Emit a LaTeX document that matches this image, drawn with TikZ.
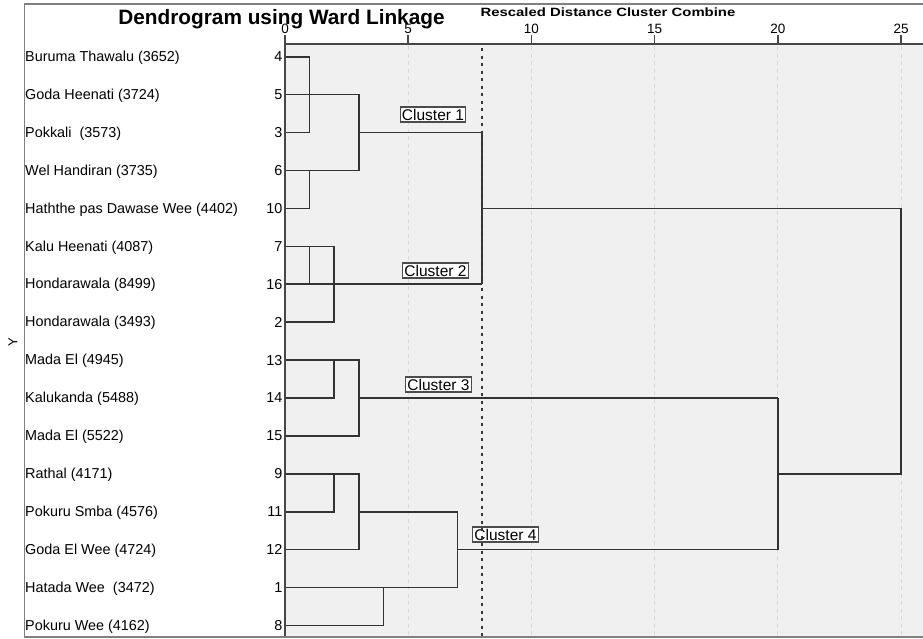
\documentclass[tikz,border=0pt]{standalone}
\usepackage{fontspec}
\setmainfont{Liberation Sans}
\usepackage{graphicx}
\begin{document}
\begin{tikzpicture}[x=1pt,y=-1pt,
  den/.style={line width=1.6pt, draw=black!80},
  gridln/.style={line width=1pt, draw=black!15, dash pattern=on 4pt off 3.5pt},
  cutln/.style={line width=2.2pt, draw=black!78, dash pattern=on 3pt off 4.5pt},
  axisln/.style={line width=1.6pt, draw=black!72},
  frameln/.style={line width=1.3pt, draw=black!50},
  leaf/.style={anchor=west, inner sep=0pt, font=\fontsize{14.4}{16}\selectfont},
  num/.style={anchor=east, inner sep=0pt, font=\fontsize{14.4}{16}\selectfont},
  tick/.style={anchor=base, inner sep=0pt, font=\fontsize{13.5}{15}\selectfont},
  clbox/.style={draw=black!70, fill=white, line width=1.1pt, inner sep=1.8pt, font=\fontsize{15.5}{17}\selectfont}
]
\useasboundingbox (0,0) rectangle (923,638);
% plot background
\fill[black!6] (285,44) rectangle (923,637);
% grid lines and ticks
\foreach \d in {5,10,15,20,25} {
  \draw[gridln] ({285+24.64*\d},46) -- ({285+24.64*\d},637);
}
\foreach \d in {0,5,10,15,20,25} {
  \draw[axisln] ({285+24.64*\d},35) -- ({285+24.64*\d},44);
  \node[tick] (tk\d) at ({285+24.64*\d},33) {\d};
}
% merge-distance coordinates
\foreach \d in {1,2,3,4,7,8,20,25} {
  \coordinate (d\d) at ({285+24.64*\d},44);
}
% leaves
\foreach \name/\num/\i in {
  {Buruma Thawalu (3652)}/4/0,
  {Goda Heenati (3724)}/5/1,
  {Pokkali\ \ (3573)}/3/2,
  {Wel Handiran (3735)}/6/3,
  {Haththe pas Dawase Wee (4402)}/10/4,
  {Kalu Heenati (4087)}/7/5,
  {Hondarawala (8499)}/16/6,
  {Hondarawala (3493)}/2/7,
  {Mada El (4945)}/13/8,
  {Kalukanda (5488)}/14/9,
  {Mada El (5522)}/15/10,
  {Rathal (4171)}/9/11,
  {Pokuru Smba (4576)}/11/12,
  {Goda El Wee (4724)}/12/13,
  {Hatada Wee\ \ (3472)}/1/14,
  {Pokuru Wee (4162)}/8/15} {
  \coordinate (l\num) at (285,{56.7+37.92*\i});
  \node[leaf] (t\num) at (25,{57.7+37.92*\i}) {\name};
  \node[num] (n\num) at (282.5,{56.7+37.92*\i}) {\num};
}
% cluster 1
\draw[den] (l4) -- (l4-|d1) -- (l3-|d1) -- (l3);
\draw[den] (l5) -- (l5-|d3) -- (l6-|d3) -- (l6);
\draw[den] (l10) -- (l10-|d1) -- (l6-|d1);
\draw[den] (l3-|d3) -- (l3-|d8);
% cluster 2
\draw[den] (l7) -- (l7-|d2) -- (l2-|d2) -- (l2);
\draw[den] (l7-|d1) -- (l16-|d1);
\draw[den] (l16) -- (l16-|d8);
% join 1+2
\draw[den] (l3-|d8) -- (l16-|d8);
\draw[den] (l10-|d8) -- (l10-|d25) -- (l9-|d25) -- (l9-|d20);
% cluster 3
\draw[den] (l13) -- (l13-|d3) -- (l15-|d3) -- (l15);
\draw[den] (l13-|d2) -- (l14-|d2) -- (l14);
\draw[den] (l14-|d3) -- (l14-|d20);
% cluster 4
\draw[den] (l9) -- (l9-|d3) -- (l12-|d3) -- (l12);
\draw[den] (l9-|d2) -- (l11-|d2) -- (l11);
\draw[den] (l11-|d3) -- (l11-|d7) -- (l1-|d7) -- (l1);
\draw[den] (l1-|d4) -- (l8-|d4) -- (l8);
\draw[den] (l12-|d7) -- (l12-|d20);
% join 3+4
\draw[den] (l14-|d20) -- (l12-|d20);
% cluster labels
\node[clbox] (c1) at (433,114.5) {Cluster 1};
\node[clbox] (c2) at (435.5,270.5) {Cluster 2};
\node[clbox] (c3) at (438.5,384.5) {Cluster 3};
\node[clbox] (c4) at (505.5,534.5) {Cluster 4};
% cut line
\draw[cutln] (d8) ++(0,4) -- (d8|-0,637);
% axes
\draw[axisln] (285,44) -- (923,44);
\draw[axisln] (285,44) -- (285,637);
% frame
\draw[frameln] (923,4) -- (24.5,4) -- (24.5,637) -- (923,637);
% titles
\node[anchor=base, inner sep=0pt, font=\fontsize{20.8}{24}\bfseries] (title) at (281.5,24) {Dendrogram using Ward Linkage};
\node[anchor=base, inner sep=0pt, font=\fontsize{12}{14}\bfseries] (sub) at (608,16) {\scalebox{1.24}[1]{Rescaled Distance Cluster Combine}};
\node[rotate=90, inner sep=0pt, font=\fontsize{13}{15}\selectfont] (ylab) at (13,342) {Y};
\end{tikzpicture}
\end{document}
